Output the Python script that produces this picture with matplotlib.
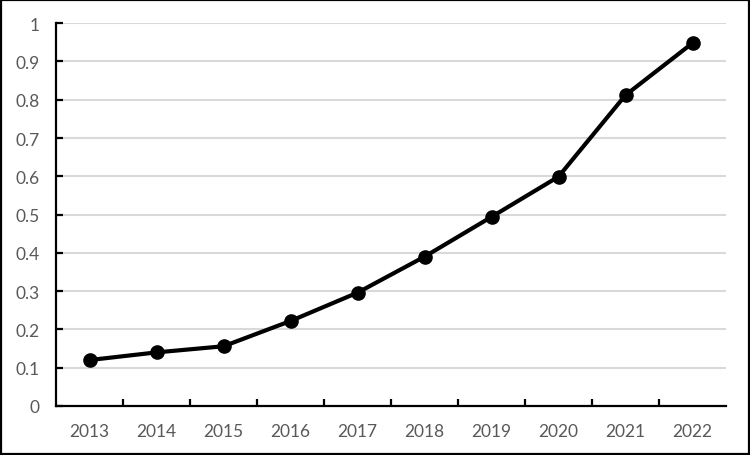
import matplotlib
matplotlib.use('Agg')
import matplotlib.pyplot as plt
from matplotlib.ticker import FixedLocator, FuncFormatter
from matplotlib.patches import Rectangle

years = ['2013', '2014', '2015', '2016', '2017', '2018', '2019', '2020', '2021', '2022']
values = [0.120, 0.140, 0.156, 0.222, 0.296, 0.390, 0.494, 0.599, 0.812, 0.948]
yticks = [0, 0.1, 0.2, 0.3, 0.4, 0.5, 0.6, 0.7, 0.8, 0.9, 1.0]

plt.rcParams['font.family'] = ['Lato', 'DejaVu Sans']

fig = plt.figure(figsize=(7.5, 4.56), dpi=100)
ax = fig.add_axes([0.0747, 0.1075, 0.968 - 0.0747, 0.947 - 0.1075])

x = list(range(len(years)))
ax.plot(x, values, color='black', lw=3.0, marker='o', markersize=9.5,
        solid_joinstyle='round', zorder=3)

ax.set_xlim(-0.5, len(years) - 0.5)
ax.set_ylim(0, 1)
ax.set_xticks(x)
ax.set_xticklabels(years)
ax.xaxis.set_minor_locator(FixedLocator([i + 0.5 for i in range(len(years) - 1)]))
ax.set_yticks(yticks)
ax.yaxis.set_major_formatter(FuncFormatter(lambda v, p: f"{v:g}"))

ax.grid(axis='y', color='#d9d9d9', lw=1.5, zorder=0)
ax.set_axisbelow(True)

for s in ('top', 'right'):
    ax.spines[s].set_visible(False)
for s in ('left', 'bottom'):
    ax.spines[s].set_color('black')
    ax.spines[s].set_linewidth(1.6)

ax.tick_params(axis='x', which='major', length=0, pad=12, labelsize=12.5, labelcolor='#595959')
ax.tick_params(axis='x', which='minor', direction='in', length=5, width=1.6, color='black')
ax.tick_params(axis='y', direction='in', length=5, width=1.6, color='black',
               pad=12, labelsize=12.5, labelcolor='#595959')

fig.patches.append(Rectangle((0.0015, 0.0025), 0.997, 0.995, transform=fig.transFigure,
                             fill=False, edgecolor='black', lw=1.6))

fig.savefig('out.png', dpi=100)
